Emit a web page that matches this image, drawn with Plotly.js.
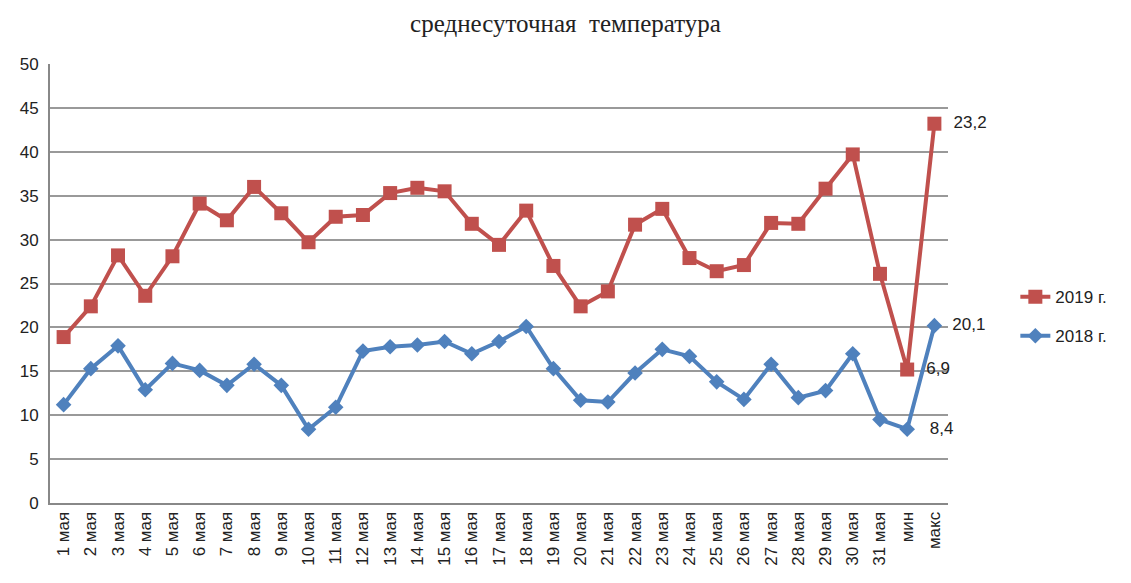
<!DOCTYPE html>
<html>
<head>
<meta charset="utf-8">
<script src="https://cdn.plot.ly/plotly-3.0.1.min.js"></script>
<style>html,body{margin:0;padding:0;background:#fff;}#chart{width:1131px;height:583px;}</style>
</head>
<body>
<div id="chart"></div>
<script>
var categories = ['1 мая','2 мая','3 мая','4 мая','5 мая','6 мая','7 мая','8 мая','9 мая','10 мая',
  '11 мая','12 мая','13 мая','14 мая','15 мая','16 мая','17 мая','18 мая','19 мая','20 мая',
  '21 мая','22 мая','23 мая','24 мая','25 мая','26 мая','27 мая','28 мая','29 мая','30 мая',
  '31 мая','мин','макс'];

var values2019 = [18.9,22.4,28.2,23.6,28.1,34.1,32.2,36.0,33.0,29.7,
  32.6,32.8,35.3,35.9,35.5,31.8,29.4,33.3,27.0,22.4,
  24.1,31.7,33.5,27.9,26.4,27.1,31.9,31.8,35.8,39.7,
  26.1,15.2,43.2];

var values2018 = [11.2,15.3,17.9,12.9,15.9,15.1,13.4,15.8,13.4,8.4,
  10.9,17.3,17.8,18.0,18.4,17.0,18.4,20.1,15.3,11.7,
  11.5,14.8,17.5,16.7,13.8,11.8,15.8,12.0,12.8,17.0,
  9.5,8.4,20.2];

var labels2019 = categories.map(function(c){ return c === 'мин' ? '  6,9' : (c === 'макс' ? '  23,2' : ''); });
var labels2018 = categories.map(function(c){ return c === 'мин' ? '   8,4' : (c === 'макс' ? '  20,1' : ''); });

var seriesNames = ['2019 г.', '2018 г.'];

var tickFont = {family: 'Liberation Sans, Arial, sans-serif', size: 17, color: '#222'};

var traces = [
  {
    x: categories, y: values2019, name: seriesNames[0], type: 'scatter', mode: 'lines+markers+text',
    legendgroup: 'a',
    line: {color: '#C0504D', width: 4},
    marker: {symbol: 'square', size: 14, color: '#C0504D'},
    text: labels2019, textposition: 'middle right', textfont: tickFont, cliponaxis: false
  },
  {
    x: categories, y: values2018, name: seriesNames[1], type: 'scatter', mode: 'lines+markers+text',
    legendgroup: 'b',
    line: {color: '#4F81BD', width: 4},
    marker: {symbol: 'diamond', size: 12, color: '#4F81BD'},
    text: labels2018, textposition: 'middle right', textfont: tickFont, cliponaxis: false
  }
];

var layout = {
  width: 1131, height: 583,
  margin: {l: 50, r: 183, t: 64, b: 80},
  paper_bgcolor: '#fff', plot_bgcolor: '#fff',
  title: {text: 'среднесуточная  температура', x: 0.5, xanchor: 'center', y: 0.96, yanchor: 'middle',
    font: {family: 'Liberation Serif, Times New Roman, serif', size: 25, color: '#222'}},
  xaxis: {
    type: 'category', range: [-0.5, 32.5], tickangle: -90, tickfont: tickFont,
    showgrid: false, showline: true, linecolor: '#888', linewidth: 2, ticks: '', zeroline: false
  },
  yaxis: {
    range: [0, 50], dtick: 5, tickfont: tickFont, showgrid: true, gridcolor: '#999', gridwidth: 2,
    showline: true, linecolor: '#888', linewidth: 2, ticks: '', zeroline: false, ticklabelstandoff: 6
  },
  showlegend: true,
  legend: {x: 1.075, xanchor: 'left', y: 0.51, yanchor: 'top', font: tickFont, tracegroupgap: 14,
    bgcolor: 'rgba(0,0,0,0)'}
};

Plotly.newPlot('chart', traces, layout, {displayModeBar: false, staticPlot: true});
</script>
</body>
</html>
